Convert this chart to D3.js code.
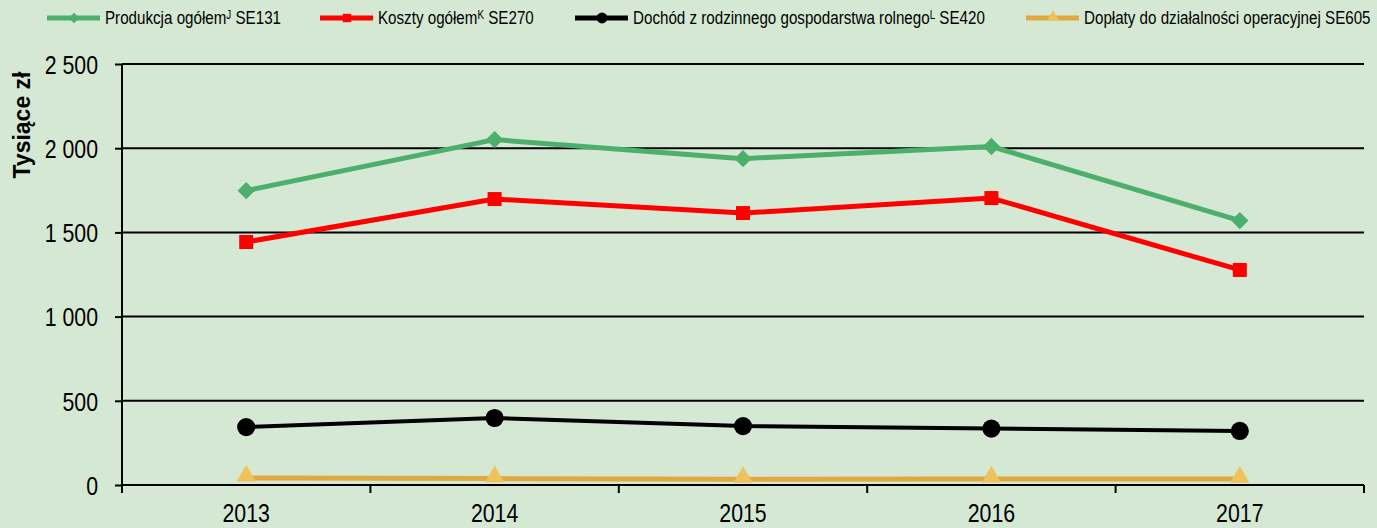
<!DOCTYPE html>
<html>
<head>
<meta charset="utf-8">
<script src="https://cdn.jsdelivr.net/npm/d3@7"></script>
<style>
  html, body { margin: 0; padding: 0; background: #d5e8d4; }
  svg { display: block; }
  .narrow { font-family: "Liberation Sans Narrow", "Arial Narrow", "Liberation Sans", Arial, sans-serif; }
</style>
</head>
<body>
<div class="container"></div>
<script>
var width = 1377,
    height = 528,
    squeeze = 0.82; // no narrow font installed, so compress regular sans

var years = ['2013', '2014', '2015', '2016', '2017'];
var tickValues = [0, 500, 1000, 1500, 2000, 2500];

// values, thousand zł
var produkcja = [1748, 2051, 1938, 2010, 1570];
var koszty = [1443, 1698, 1615, 1704, 1277];
var dochod = [344, 398, 350, 335, 321];
var doplaty = [42, 38, 34, 36, 35];

var series = [
    { name: 'Produkcja ogółem', sup: 'J', code: ' SE131', values: produkcja, color: '#4daf6c', marker: 'diamond', width: 5 },
    { name: 'Koszty ogółem', sup: 'K', code: ' SE270', values: koszty, color: '#ff0000', marker: 'square', width: 5 },
    { name: 'Dochód z rodzinnego gospodarstwa rolnego', sup: 'L', code: ' SE420', values: dochod, color: '#000000', marker: 'circle', width: 4 },
    { name: 'Dopłaty do działalności operacyjnej', sup: '', code: ' SE605', values: doplaty, color: '#e0a940', markerColor: '#f0c25c', marker: 'triangle', width: 5 }
];

// legend line start x per entry
var legendX = [47, 320, 575, 1026];

var x = d3.scaleBand().domain(years).range([122, 1364]);
var y = d3.scaleLinear().domain([0, 2500]).range([485, 64]);
var cx = (d) => x(d) + x.bandwidth() / 2;

var fmt = d3.formatLocale({ decimal: ',', thousands: ' ', grouping: [3], currency: ['', ''] }).format(',d');

var symbols = {
    diamond: d3.symbol().type(d3.symbolSquare).size(150),
    square: d3.symbol().type(d3.symbolSquare).size(196),
    circle: d3.symbol().type(d3.symbolCircle).size(260),
    triangle: d3.symbol().type(d3.symbolTriangle).size(160)
};

var drawMarker = (g, s, px, py, scale) => {
    scale = scale || 1;
    var rot = s.marker === 'diamond' ? ' rotate(45)' : '';
    var dy = s.marker === 'triangle' ? -2 : 0;
    g.append('path')
        .attr('d', symbols[s.marker]())
        .attr('transform', 'translate(' + px + ',' + (py + dy * scale) + ') scale(' + scale + ')' + rot)
        .style('fill', s.markerColor || s.color);
};

window.onload = () => {
    var svg = d3.select('.container').append('svg')
        .attr('width', width)
        .attr('height', height)
        .style('background', '#d5e8d4');

    // y axis ticks + labels
    var yAxis = svg.append('g')
        .attr('class', 'narrow')
        .attr('transform', 'translate(122,0)')
        .call(d3.axisLeft(y).tickValues(tickValues).tickSize(7).tickFormat(fmt));
    yAxis.select('.domain').remove();
    yAxis.selectAll('.tick line').attr('stroke', '#000').attr('stroke-width', 2);
    yAxis.selectAll('.tick text')
        .attr('x', -24 / squeeze)
        .attr('dy', '0.36em')
        .attr('transform', 'scale(' + squeeze + ',1)')
        .style('font-size', '26px')
        .attr('fill', '#000');

    // grid
    svg.append('g').selectAll('line')
        .data(tickValues)
        .enter().append('line')
        .attr('x1', 122).attr('x2', 1364)
        .attr('y1', (d) => y(d)).attr('y2', (d) => y(d))
        .attr('stroke', '#000').attr('stroke-width', 2);

    svg.append('line')
        .attr('x1', 122).attr('x2', 122)
        .attr('y1', 64).attr('y2', 493)
        .attr('stroke', '#000').attr('stroke-width', 2);

    // x axis: ticks on band edges, labels at band centres
    var edges = years.map((d) => x(d)).concat([x.range()[1]]);
    svg.append('g').selectAll('line')
        .data(edges.slice(1))
        .enter().append('line')
        .attr('x1', (d) => d).attr('x2', (d) => d)
        .attr('y1', 485).attr('y2', 493)
        .attr('stroke', '#000').attr('stroke-width', 2);

    svg.append('g').attr('class', 'narrow').selectAll('text')
        .data(years)
        .enter().append('text')
        .attr('transform', (d) => 'translate(' + cx(d) + ',522) scale(' + squeeze + ',1)')
        .attr('text-anchor', 'middle')
        .style('font-size', '26px')
        .text((d) => d);

    // y title
    svg.append('text')
        .attr('transform', 'translate(30,125) rotate(-90)')
        .attr('text-anchor', 'middle')
        .style('font-family', '"Liberation Sans", Arial, sans-serif')
        .style('font-weight', 'bold')
        .style('font-size', '23px')
        .text('Tysiące zł');

    // series
    var line = d3.line().x((d, i) => cx(years[i])).y((d) => y(d));
    series.slice().reverse().forEach((s) => {
        var g = svg.append('g');
        g.append('path')
            .attr('d', line(s.values))
            .attr('fill', 'none')
            .attr('stroke', s.color)
            .attr('stroke-width', s.width)
            .attr('stroke-linejoin', 'round');
        s.values.forEach((v, i) => drawMarker(g, s, cx(years[i]), y(v)));
    });

    // legend
    var legend = svg.append('g').attr('class', 'narrow');
    series.forEach((s, i) => {
        var lx = legendX[i], ly = 18;
        legend.append('line')
            .attr('x1', lx).attr('x2', lx + 53)
            .attr('y1', ly).attr('y2', ly)
            .attr('stroke', s.color).attr('stroke-width', 5);
        drawMarker(legend, s, lx + 27, ly, 0.6);
        var t = legend.append('text')
            .attr('transform', 'translate(' + (lx + 58) + ',' + (ly + 6) + ') scale(' + squeeze + ',1)')
            .style('font-size', '18.5px');
        t.append('tspan').text(s.name);
        if (s.sup) t.append('tspan').attr('dy', -5).style('font-size', '12px').text(s.sup);
        t.append('tspan').attr('dy', s.sup ? 5 : 0).text(s.code);
    });
};
</script>
</body>
</html>
